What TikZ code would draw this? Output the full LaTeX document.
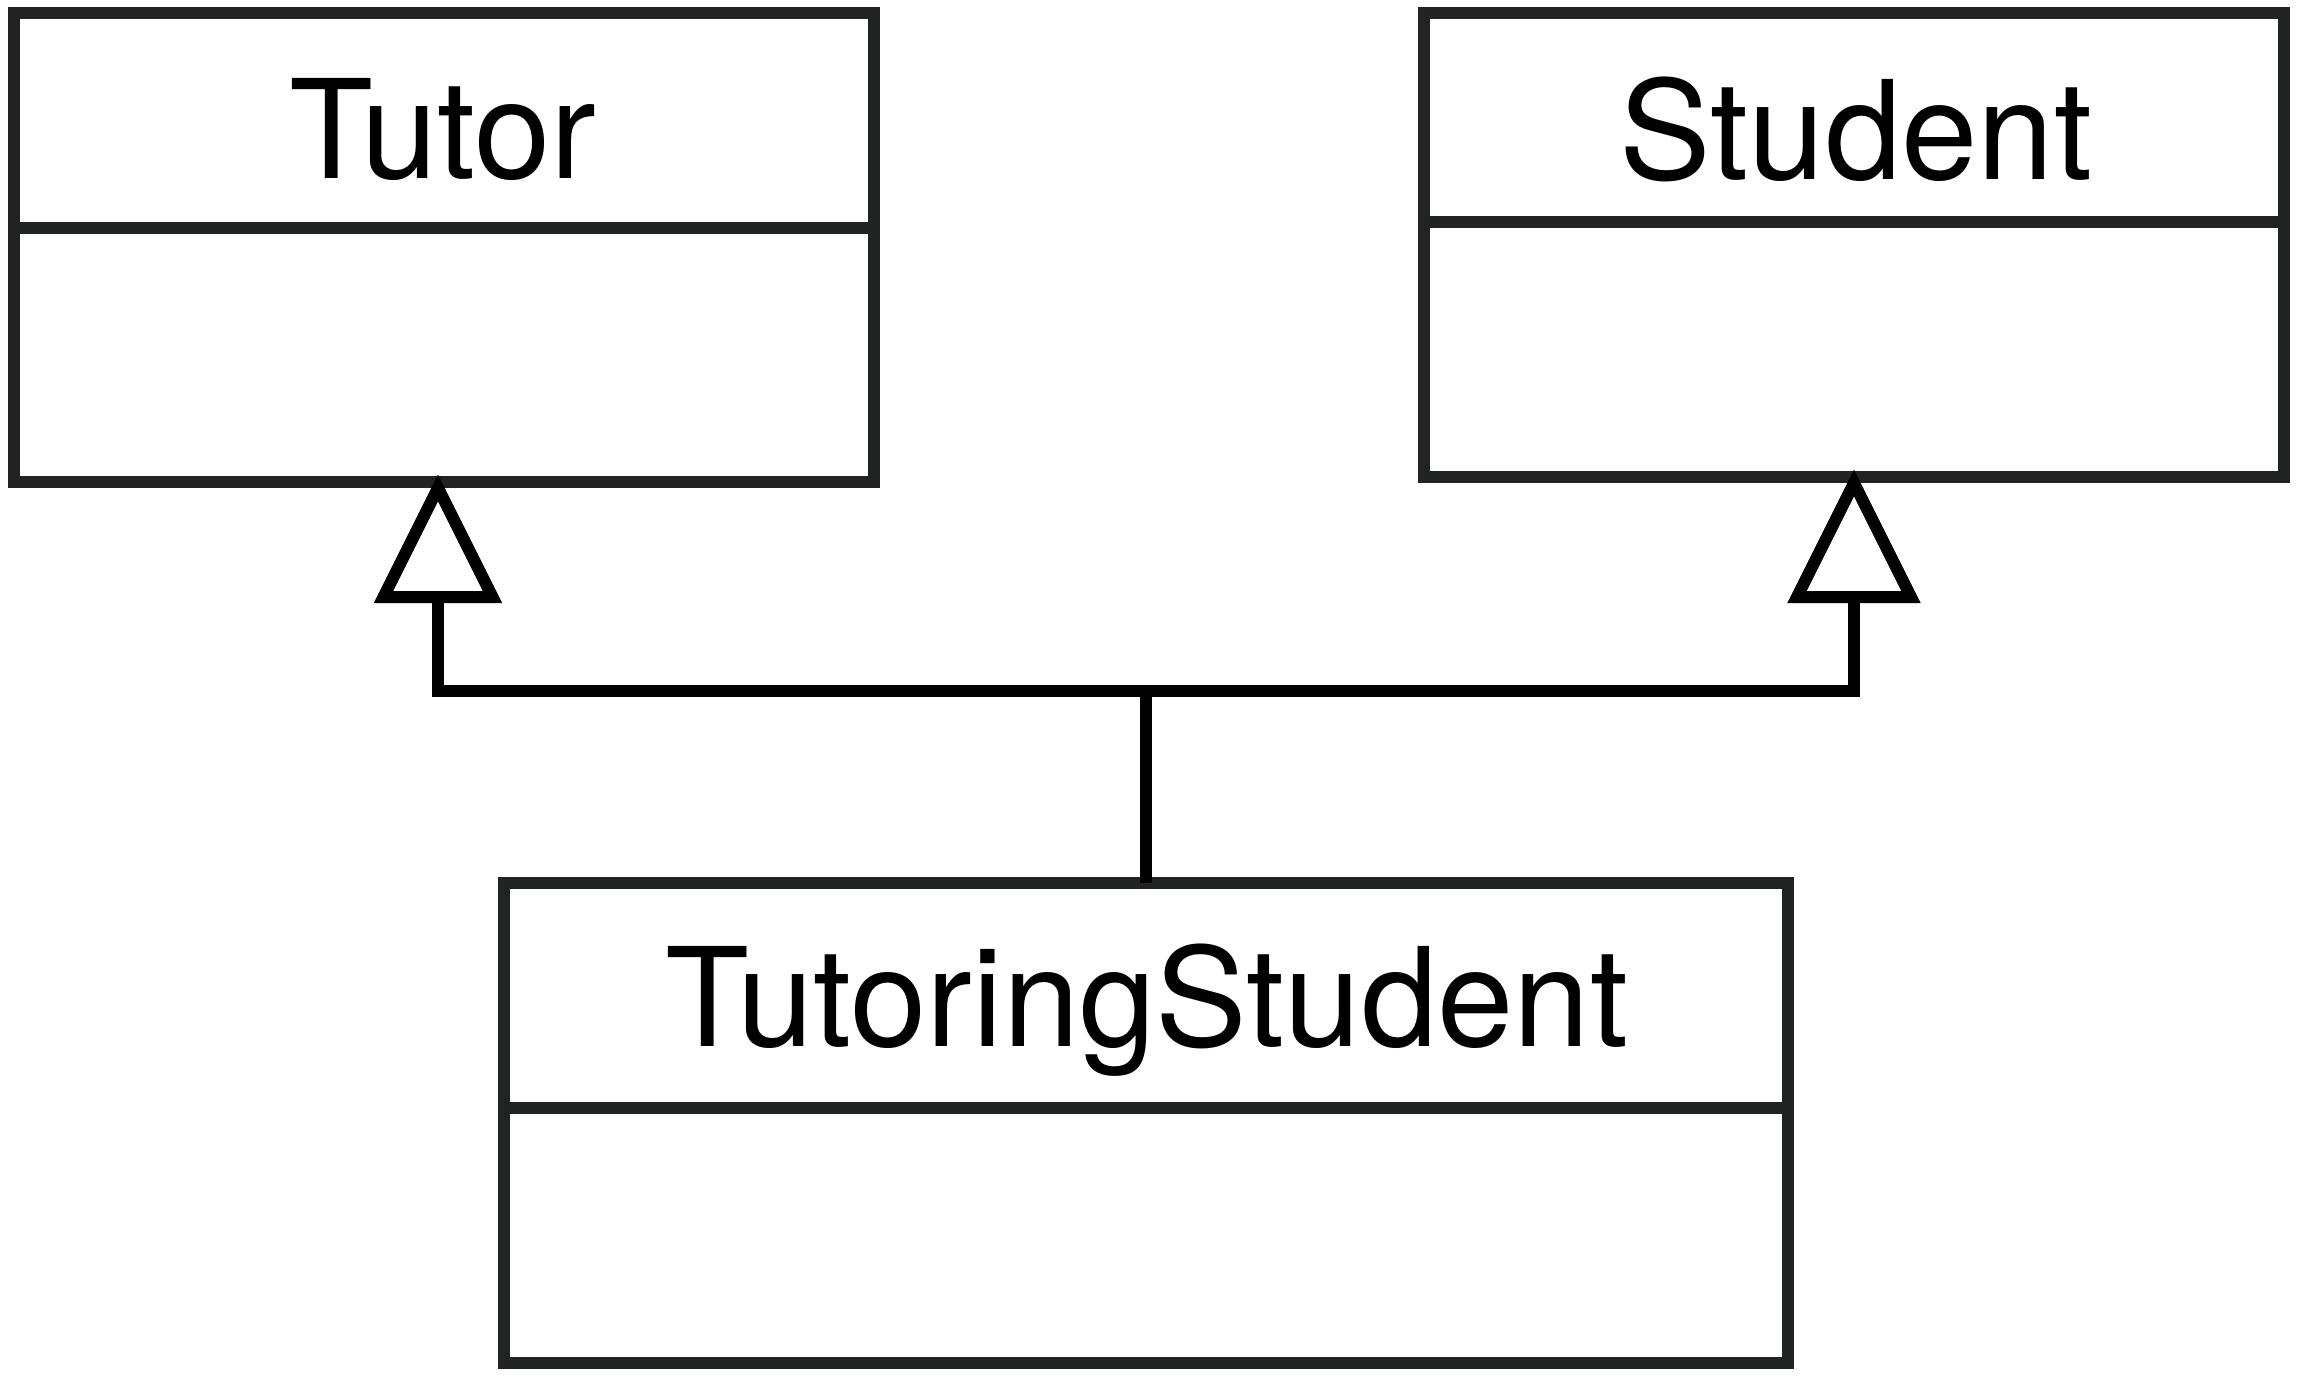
\documentclass[tikz,border=0pt]{standalone}
\usepackage{fontspec}
\setmainfont{TeX Gyre Heros}
\definecolor{boxgray}{HTML}{212224}
\begin{document}
\begin{tikzpicture}[x=0.3pt,y=-0.3pt,
  umlbox/.style={draw=boxgray,line width=3.6pt,fill=white,rectangle,inner sep=0pt,outer sep=0pt},
  divider/.style={draw=boxgray,line width=3.6pt},
  title/.style={anchor=base,inner sep=0pt,font=\fontsize{41.2}{48}\selectfont},
  conn/.style={draw=black,line width=3.6pt},
  gentip/.style={draw=black,line width=3.6pt,fill=white,miter limit=10}]
\useasboundingbox (0,0) rectangle (2298,1378);
% class boxes
\node[umlbox,minimum width=258pt,minimum height=140.7pt] (tutor) at (444,247.5) {};
\draw[divider] (14,227.5) -- (874,227.5);
\node[title] (tutorname) at (443,178) {Tutor};
\node[umlbox,minimum width=258pt,minimum height=139.2pt] (student) at (1854,245) {};
\draw[divider] (1424,222) -- (2284,222);
\node[title] (studentname) at (1856,179) {Student};
\node[umlbox,minimum width=385.2pt,minimum height=144pt] (ts) at (1146,1123) {};
\draw[divider] (504,1108) -- (1788,1108);
\node[title] (tsname) at (1147,1046) {TutoringStudent};
% connectors
\coordinate (junction) at (1146,691);
\coordinate (ttip) at (438,488);
\coordinate (tbase) at (438,597);
\coordinate (stip) at (1854,483);
\coordinate (sbase) at (1854,597);
\draw[conn] (junction |- ts.north) -- (junction);
\draw[conn,line join=miter] (tbase) -- (tbase |- junction) -- (sbase |- junction) -- (sbase);
\draw[gentip] (ttip) -- ++(54.5,109) -- ++(-109,0) -- cycle;
\draw[gentip] (stip) -- ++(57,114) -- ++(-114,0) -- cycle;
\end{tikzpicture}
\end{document}
